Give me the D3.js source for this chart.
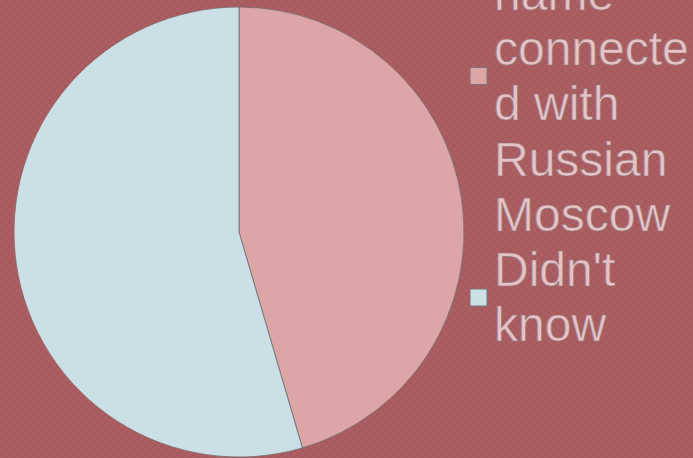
<!DOCTYPE html>
<html><head><meta charset="utf-8">
<script src="https://cdn.jsdelivr.net/npm/d3@7"></script>
<style>html,body{margin:0;padding:0;overflow:hidden;background:#A85B5F}</style>
</head><body>
<svg id="c" width="693" height="458"></svg>
<script>
const categories = ["name connected with Russian Moscow", "Didn't know"];
const values = [5, 6];
const colors = ["#DCA5A6", "#CBE0E6"];
const legendLines = [["name", "connecte", "d with", "Russian", "Moscow"], ["Didn't", "know"]];

const svg = d3.select("#c");
const defs = svg.append("defs");
const pat = defs.append("pattern").attr("id","bg").attr("width",8).attr("height",8).attr("patternUnits","userSpaceOnUse");
pat.append("rect").attr("width",8).attr("height",8).attr("fill","#A85B5F");
pat.append("rect").attr("width",4).attr("height",4).attr("fill","#AB5F63");
pat.append("rect").attr("x",4).attr("y",4).attr("width",4).attr("height",4).attr("fill","#AB5F63");
svg.append("rect").attr("width",693).attr("height",458).attr("fill","url(#bg)");

const cx = 239, cy = 232, r = 225;
const pie = d3.pie().sort(null).value(d => d)(values);
const arc = d3.arc().innerRadius(0).outerRadius(r);
const g = svg.append("g").attr("transform", `translate(${cx},${cy})`);
g.selectAll("path").data(pie).join("path")
  .attr("d", arc)
  .attr("fill", (d,i) => colors[i])
  .attr("stroke", "#7a6a6c").attr("stroke-width", 0.8);

// legend
const lineH = 55.2;
const firstBaseline = 10;
let lineIndex = 0;
const squareY = [67.5, 289];
categories.forEach((c, i) => {
  svg.append("rect").attr("x", 470).attr("y", squareY[i]).attr("width", 17).attr("height", 17)
    .attr("fill", colors[i]).attr("stroke", "#777").attr("stroke-width", 1);
  const t = svg.append("text").attr("x", 494).attr("font-family", "'Liberation Sans', Arial, sans-serif")
    .attr("font-size", 48).attr("fill", "#EAC2C6").attr("stroke", "#8c7c7e").attr("stroke-width", 0.7);
  legendLines[i].forEach(l => {
    t.append("tspan").attr("x", 494).attr("y", firstBaseline + lineH * lineIndex).text(l);
    lineIndex++;
  });
});
</script>
</body></html>
